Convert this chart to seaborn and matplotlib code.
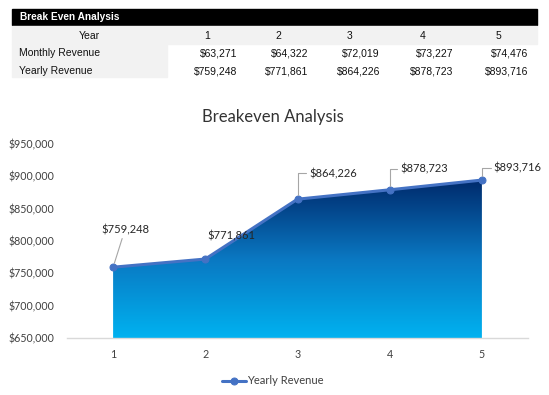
import numpy as np
import pandas as pd
import matplotlib
matplotlib.use('Agg')
from matplotlib import pyplot as plt
from matplotlib.colors import LinearSegmentedColormap
from matplotlib.patches import Rectangle
import seaborn as sns

# data
years = [1, 2, 3, 4, 5]
monthly_revenue = [63271, 64322, 72019, 73227, 74476]
yearly_revenue = [759248, 771861, 864226, 878723, 893716]
y_ticks = [650000, 700000, 750000, 800000, 850000, 900000, 950000]

df = pd.DataFrame({'Year': years, 'Yearly Revenue': yearly_revenue})

sns.set_style('white')
plt.rcParams['font.family'] = ['Lato', 'DejaVu Sans']

W, H = 549, 395
fig = plt.figure(figsize=(W / 100, H / 100), dpi=100)

def fx(x):
    return x / W

def fy(y):
    return 1 - y / H

# ---- table on top ----
tfont = dict(family='Liberation Sans', fontsize=7.5, color='#111111')
fig.patches.append(Rectangle((fx(12), fy(25)), fx(537) - fx(12), fy(9) - fy(25),
                             transform=fig.transFigure, color='black', zorder=0))
fig.text(fx(20), fy(17.5), 'Break Even Analysis', family='Liberation Sans', fontsize=7.3,
         weight='bold', color='white', va='center', ha='left')
fig.patches.append(Rectangle((fx(12), fy(44)), fx(537) - fx(12), fy(26) - fy(44),
                             transform=fig.transFigure, color='#f2f2f2', zorder=0))
fig.patches.append(Rectangle((fx(12), fy(77)), fx(167) - fx(12), fy(44) - fy(77),
                             transform=fig.transFigure, color='#f2f2f2', zorder=0))

fig.text(fx(89), fy(36), 'Year', ha='center', va='center', **tfont)
fig.text(fx(19), fy(53), 'Monthly Revenue', ha='left', va='center', **tfont)
fig.text(fx(19), fy(71), 'Yearly Revenue', ha='left', va='center', **tfont)

col_right = [237, 308, 380, 453, 528]
for i, yr in enumerate(years):
    fig.text(fx(col_right[i] - 30), fy(36), str(yr), ha='center', va='center', **tfont)
    fig.text(fx(col_right[i]), fy(53), f'${monthly_revenue[i]:,}', ha='right', va='center', **tfont)
    fig.text(fx(col_right[i]), fy(71), f'${yearly_revenue[i]:,}', ha='right', va='center', **tfont)

# ---- chart ----
ax = fig.add_axes([fx(67), fy(338), fx(528) - fx(67), fy(143.6) - fy(338)])

# gradient area
cmap = LinearSegmentedColormap.from_list('grad', ['#00b2f0', '#0a78c2', '#002a6c'])
grad = np.linspace(0, 1, 256).reshape(-1, 1)
img = ax.imshow(grad, cmap=cmap, origin='lower', aspect='auto',
                extent=[years[0], years[-1], y_ticks[0], max(yearly_revenue)], zorder=1)
poly = ax.fill_between(years, yearly_revenue, y_ticks[0], color='none', lw=0)
img.set_clip_path(poly.get_paths()[0], transform=ax.transData)

sns.lineplot(data=df, x='Year', y='Yearly Revenue', ax=ax, color='#4472c4', lw=2.2,
             marker='o', markersize=5, markeredgecolor='#4472c4', label='Yearly Revenue', zorder=3)

ax.set_xlim(0.5, 5.5)
ax.set_ylim(y_ticks[0], y_ticks[-1])
ax.set_xticks(years)
ax.set_yticks(y_ticks)
ax.set_yticklabels([f'${v:,}' for v in y_ticks])
ax.tick_params(axis='both', length=0, labelsize=7.7, colors='#404040')
ax.tick_params(axis='x', pad=8)
ax.tick_params(axis='y', pad=9)
ax.set_xlabel('')
ax.set_ylabel('')
for s in ['top', 'right', 'left']:
    ax.spines[s].set_visible(False)
ax.spines['bottom'].set_color('#d9d9d9')
ax.spines['bottom'].set_linewidth(1)

fig.text(fx(273), fy(117), 'Breakeven Analysis', ha='center', va='center',
         fontsize=12, color='#333333')

# data labels (offsets in points)
lead = dict(arrowstyle='-', color='#a6a6a6', lw=0.8, shrinkA=0, shrinkB=3)
ax.annotate(f'${yearly_revenue[0]:,}', (years[0], yearly_revenue[0]), xytext=(9, 27),
            textcoords='offset points', ha='center', va='center', fontsize=8,
            arrowprops=dict(relpos=(0.45, 0), **lead))
ax.annotate(f'${yearly_revenue[1]:,}', (years[1], yearly_revenue[1]), xytext=(19, 17),
            textcoords='offset points', ha='center', va='center', fontsize=8)
label_offsets = {2: (8.6, 18.5), 3: (7.9, 15), 4: (8.6, 8.6)}
for i, off in label_offsets.items():
    ax.annotate(f'${yearly_revenue[i]:,}', (years[i], yearly_revenue[i]), xytext=off,
                textcoords='offset points', ha='left', va='center', fontsize=8,
                arrowprops=dict(relpos=(0, 0.5),
                                connectionstyle='angle,angleA=0,angleB=90,rad=0', **lead))

leg = ax.legend(loc='center', bbox_to_anchor=(fx(273), fy(381)), bbox_transform=fig.transFigure,
                frameon=False, fontsize=8, handlelength=2.2, handletextpad=0.1)
for t in leg.get_texts():
    t.set_color('#404040')

fig.savefig('out.png', dpi=100)
